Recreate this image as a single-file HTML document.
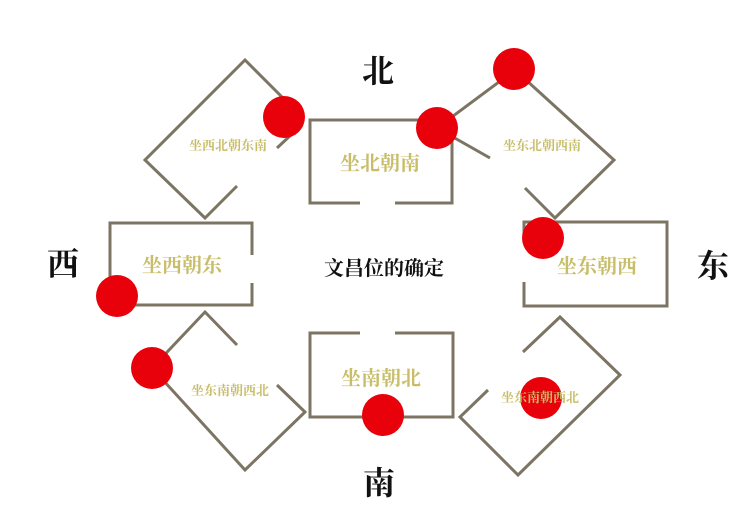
<!DOCTYPE html>
<html><head><meta charset="utf-8"><style>
body{margin:0;background:#fff;width:742px;height:512px;overflow:hidden}
svg text{font-family:"Liberation Serif","Noto Serif CJK SC",serif;font-weight:bold}
</style></head><body>
<svg width="742" height="512" viewBox="0 0 742 512">
<g fill="none" stroke="#7d7563" stroke-width="3">
<!-- top-left diamond -->
<polyline points="237,186 205,218 145,160 245,60 285,100"/>
<line x1="277" y1="148" x2="292" y2="134"/>
<!-- north box -->
<polyline points="360,203 310,203 310,120 452,120 452,203 395,203"/>
<!-- west box -->
<polyline points="252,255 252,223 110,223 110,305 252,305 252,283"/>
<!-- top-right diamond -->
<polyline points="490,158 437,128 515,70 614,160 555,218 525,188"/>
<!-- east box -->
<polyline points="524,240 524,222 667,222 667,306 524,306 524,282"/>
<!-- bottom-left diamond -->
<polyline points="237,345 205,312 152,368 245,470 305,412 277,385"/>
<!-- south box -->
<polyline points="360,333 310,333 310,417 453,417 453,333 395,333"/>
<!-- bottom-right diamond -->
<polyline points="523,352 560,317 620,375 518,475 460,417 488,390"/>
</g>
<g fill="#e8000a">
<circle cx="284" cy="117" r="21"/>
<circle cx="437" cy="128" r="21"/>
<circle cx="514" cy="69" r="21"/>
<circle cx="543" cy="238" r="21"/>
<circle cx="117" cy="296" r="21"/>
<circle cx="152" cy="368" r="21"/>
<circle cx="383" cy="415" r="21"/>
<circle cx="541" cy="398" r="21"/>
</g>
<g fill="#c8be6a" text-anchor="middle">
<text x="228" y="150" font-size="13">坐西北朝东南</text>
<text x="380" y="170" font-size="20">坐北朝南</text>
<text x="542" y="150" font-size="13">坐东北朝西南</text>
<text x="182" y="272" font-size="20">坐西朝东</text>
<text x="597" y="273" font-size="20">坐东朝西</text>
<text x="230" y="395" font-size="13">坐东南朝西北</text>
<text x="381" y="385" font-size="20">坐南朝北</text>
<text x="540" y="402" font-size="13">坐东南朝西北</text>
</g>
<g fill="#111" text-anchor="middle">
<text x="378" y="82" font-size="32">北</text>
<text x="63" y="275" font-size="32">西</text>
<text x="713" y="277" font-size="32">东</text>
<text x="379" y="494" font-size="32">南</text>
<text x="384" y="275" font-size="20">文昌位的确定</text>
</g>
</svg>
</body></html>
